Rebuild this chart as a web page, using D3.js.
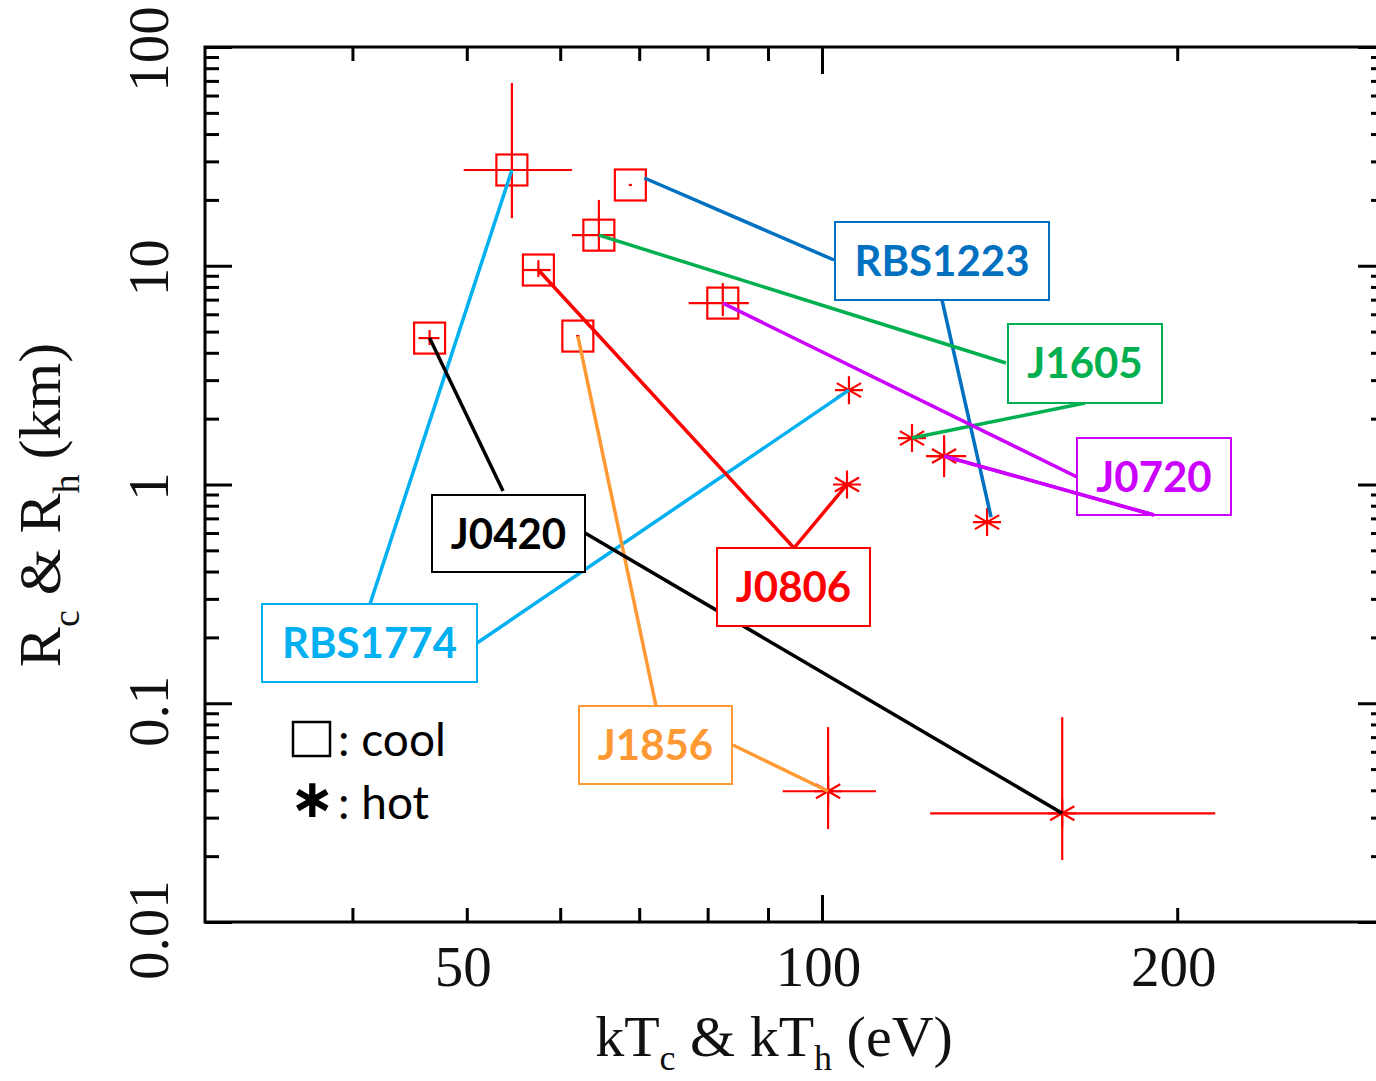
<!DOCTYPE html>
<html>
<head>
<meta charset="utf-8">
<script src="https://cdn.jsdelivr.net/npm/d3@7"></script>
<style>
body { margin: 0; background: #fff; }
.tick line { stroke: #000; stroke-width: 3; }
.tick text { font-family: "Liberation Serif", "Times New Roman", serif; fill: #111; }
.label { font-family: Lato, "Open Sans", sans-serif; font-weight: bold; }
</style>
</head>
<body>
<svg id="chart" width="1376" height="1081"></svg>
<script>
// sources (same order everywhere)
var names = ["RBS1774", "RBS1223", "J1605", "J0806", "J0720", "J1856", "J0420"];
var colors = ["#00B0F0", "#0070C0", "#00B050", "#FF0000", "#CC00FF", "#FF9933", "#000000"];

// cool component: kT_c (eV), R_c (km), with error ranges
var coolT   = [54.6, 68.8, 64.7, 57.5, 82.4, 62.1, 46.5];
var coolTlo = [49.7, 68.6, 61.4, 55.8, 77.1, 61.9, 45.5];
var coolThi = [61.4, 69.0, 66.7, 58.9, 86.7, 62.3, 47.4];
var coolR   = [27.4, 23.4, 13.8, 9.56, 6.75, 4.77, 4.67];
var coolRlo = [16.5, 23.2, 11.8, 8.88, 5.89, 4.72, 4.34];
var coolRhi = [68.5, 23.6, 20.0, 10.6, 8.33, 4.82, 5.08];

// hot component: kT_h (eV), R_h (km); null = no error bar drawn
var hotT   = [105.4, 138.0, 119.2, 105.0, 126.9, 101.2, 159.8];
var hotTlo = [null, null, null, null, 122.5, 92.6, 123.5];
var hotThi = [null, null, null, null, 132.5, 111.1, 215.4];
var hotR   = [2.70, 0.673, 1.63, 1.00, 1.349, 0.0396, 0.0314];
var hotRlo = [null, null, null, null, 1.08, 0.0266, 0.0192];
var hotRhi = [null, null, null, null, 1.68, 0.0778, 0.0864];

var xLabels = [50, 100, 200];
var yLabels = [0.01, 0.1, 1, 10, 100];

// label boxes: [x, y, w, h], start of line to cool point, start of line to hot point
var boxes = [
  {r: [262, 604, 215, 78], c: [370, 604], h: [477, 643]},
  {r: [835, 222, 214, 78], c: [834, 260], h: [942, 300], cEnd: [14, -7], hEnd: [4, -5]},
  {r: [1008, 324, 154, 79], c: [1006, 363], h: [1085, 403]},
  {r: [717, 548, 153, 78], c: [794, 548], h: [794, 548]},
  {r: [1077, 438, 154, 77], c: [1077, 477], h: [1154, 515]},
  {r: [579, 706, 153, 78], c: [656, 706], h: [733, 745]},
  {r: [432, 495, 153, 77], c: [503, 491], h: [585, 533]}
];

var svg = d3.select("#chart");
var pLeft = 205, pRight = 1385, pTop = 47, pBottom = 922;

var x = d3.scaleLog().domain([30, 300]).range([pLeft, pRight]);
var y = d3.scaleLog().domain([0.01, 100]).range([pBottom, pTop]);

var xMinor = [40, 50, 60, 70, 80, 90, 200];
var xMajor = [100];
var yMajor = [0.01, 0.1, 1, 10, 100];
var yMinor = [];
[0.01, 0.1, 1, 10].forEach(function(d) {
  for (var k = 2; k <= 9; k++) yMinor.push(d * k);
});

function axisGroup(axis, tx, ty) {
  var g = svg.append("g")
      .attr("transform", "translate(" + tx + "," + ty + ")")
      .call(axis);
  g.select(".domain").remove();
  return g;
}

// ticks, all pointing into the plot
axisGroup(d3.axisBottom(x).tickValues(xMinor).tickSizeInner(-14).tickSizeOuter(0).tickFormat(""), 0, pBottom);
axisGroup(d3.axisBottom(x).tickValues(xMajor).tickSizeInner(-27).tickSizeOuter(0).tickFormat(""), 0, pBottom);
axisGroup(d3.axisTop(x).tickValues(xMinor).tickSizeInner(-14).tickSizeOuter(0).tickFormat(""), 0, pTop);
axisGroup(d3.axisTop(x).tickValues(xMajor).tickSizeInner(-27).tickSizeOuter(0).tickFormat(""), 0, pTop);
axisGroup(d3.axisLeft(y).tickValues(yMinor).tickSizeInner(-14).tickSizeOuter(0).tickFormat(""), pLeft, 0);
axisGroup(d3.axisLeft(y).tickValues(yMajor).tickSizeInner(-27).tickSizeOuter(0).tickFormat(""), pLeft, 0);
axisGroup(d3.axisRight(y).tickValues(yMinor).tickSizeInner(-14).tickSizeOuter(0).tickFormat(""), pRight, 0);
axisGroup(d3.axisRight(y).tickValues(yMajor).tickSizeInner(-27).tickSizeOuter(0).tickFormat(""), pRight, 0);

// x tick labels
var xl = axisGroup(d3.axisBottom(x).tickValues(xLabels).tickSize(0).tickPadding(24)
    .tickFormat(d3.format("d")), -4, pBottom);
xl.selectAll("text").style("font-size", "57px");

// y tick labels (rotated)
svg.append("g").selectAll("text")
  .data(yLabels)
  .enter().append("text")
    .attr("transform", function(d) { return "translate(168," + (y(d) + (d < 0.5 ? 8 : 2)) + ") rotate(-90)"; })
    .attr("text-anchor", "middle")
    .style("font-family", "'Liberation Serif', 'Times New Roman', serif")
    .style("font-size", "57px")
    .style("fill", "#111")
    .text(function(d) { return String(d); });

// frame
svg.append("rect")
    .attr("x", pLeft).attr("y", pTop)
    .attr("width", pRight - pLeft).attr("height", pBottom - pTop)
    .attr("fill", "none").attr("stroke", "#000").attr("stroke-width", 3);

// axis titles
var xt = svg.append("text")
    .attr("x", 774).attr("y", 1056)
    .attr("text-anchor", "middle")
    .style("font-family", "'Liberation Serif', 'Times New Roman', serif")
    .style("font-size", "58px").style("fill", "#111");
xt.append("tspan").text("kT");
xt.append("tspan").attr("dy", 14).style("font-size", "36px").text("c");
xt.append("tspan").attr("dy", -14).text(" & kT");
xt.append("tspan").attr("dy", 14).style("font-size", "36px").text("h");
xt.append("tspan").attr("dy", -14).text(" (eV)");

var yt = svg.append("text")
    .attr("transform", "translate(60,505) rotate(-90)")
    .attr("text-anchor", "middle")
    .style("font-family", "'Liberation Serif', 'Times New Roman', serif")
    .style("font-size", "60px").style("fill", "#111");
yt.append("tspan").text("R");
yt.append("tspan").attr("dy", 19).style("font-size", "38px").text("c");
yt.append("tspan").attr("dy", -19).text(" & R");
yt.append("tspan").attr("dy", 19).style("font-size", "38px").text("h");
yt.append("tspan").attr("dy", -19).text(" (km)");

// markers
var red = "#FF0000";
var marks = svg.append("g").attr("stroke", red).attr("stroke-width", 2.2).attr("fill", "none");

function errBar(g, t, r, tlo, thi, rlo, rhi) {
  if (tlo != null) g.append("line").attr("x1", x(tlo)).attr("x2", x(thi)).attr("y1", y(r)).attr("y2", y(r));
  if (rlo != null) g.append("line").attr("x1", x(t)).attr("x2", x(t)).attr("y1", y(rlo)).attr("y2", y(rhi));
}

function starPath(cx, cy, s) {
  var p = "M" + cx + "," + (cy - s) + "V" + (cy + s) +
          "M" + (cx - s) + "," + cy + "H" + (cx + s);
  var dx = s * Math.cos(Math.PI / 6), dy = s * Math.sin(Math.PI / 6);
  p += "M" + (cx - dx) + "," + (cy - dy) + "L" + (cx + dx) + "," + (cy + dy);
  p += "M" + (cx - dx) + "," + (cy + dy) + "L" + (cx + dx) + "," + (cy - dy);
  return p;
}

names.forEach(function(n, i) {
  errBar(marks, coolT[i], coolR[i], coolTlo[i], coolThi[i], coolRlo[i], coolRhi[i]);
  marks.append("rect")
      .attr("x", x(coolT[i]) - 15.5).attr("y", y(coolR[i]) - 15.5)
      .attr("width", 31).attr("height", 31);
  errBar(marks, hotT[i], hotR[i], hotTlo[i], hotThi[i], hotRlo[i], hotRhi[i]);
  marks.append("path").attr("d", starPath(x(hotT[i]), y(hotR[i]), 14));
});

// connector lines and labels
var ann = svg.append("g");
names.forEach(function(n, i) {
  var b = boxes[i], ce = b.cEnd || [0, 0], he = b.hEnd || [0, 0];
  ann.append("line")
      .attr("x1", b.c[0]).attr("y1", b.c[1])
      .attr("x2", x(coolT[i]) + ce[0]).attr("y2", y(coolR[i]) + ce[1])
      .attr("stroke", colors[i]).attr("stroke-width", 3.5);
  ann.append("line")
      .attr("x1", b.h[0]).attr("y1", b.h[1])
      .attr("x2", x(hotT[i]) + he[0]).attr("y2", y(hotR[i]) + he[1])
      .attr("stroke", colors[i]).attr("stroke-width", 3.5);
});
names.forEach(function(n, i) {
  var b = boxes[i].r;
  ann.append("rect")
      .attr("x", b[0]).attr("y", b[1]).attr("width", b[2]).attr("height", b[3])
      .attr("fill", i === 4 ? "none" : "#fff")
      .attr("stroke", colors[i]).attr("stroke-width", 2);
  ann.append("text")
      .attr("class", "label")
      .attr("x", b[0] + b[2] / 2).attr("y", b[1] + 54)
      .attr("text-anchor", "middle")
      .style("font-size", "42px")
      .style("fill", colors[i])
      .text(n);
});
// J0720 hot connector passes over its own box
ann.append("line")
    .attr("x1", boxes[4].h[0]).attr("y1", boxes[4].h[1])
    .attr("x2", x(hotT[4])).attr("y2", y(hotR[4]))
    .attr("stroke", colors[4]).attr("stroke-width", 3.5);

// legend
var leg = svg.append("g");
leg.append("rect").attr("x", 293).attr("y", 722).attr("width", 37).attr("height", 34)
    .attr("fill", "none").attr("stroke", "#000").attr("stroke-width", 2.5);
leg.append("text").attr("x", 338).attr("y", 756)
    .style("font-family", "Lato, 'Open Sans', sans-serif").style("font-size", "46px")
    .text(": cool");
leg.append("text").attr("x", 312).attr("y", 817).attr("text-anchor", "middle")
    .style("font-family", "'DejaVu Sans', sans-serif").style("font-size", "54px").style("font-weight", "bold")
    .text("\u2217");
leg.append("text").attr("x", 338).attr("y", 819)
    .style("font-family", "Lato, 'Open Sans', sans-serif").style("font-size", "46px")
    .text(": hot");
</script>
</body>
</html>
